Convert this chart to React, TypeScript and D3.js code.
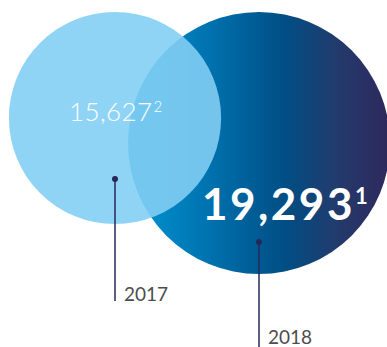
import React from "react";
import * as d3 from "d3";

// Members by year
const years = ["2017", "2018"];
const values = [15627, 19293];
const footnotes = ["2", "1"];

const W = 387;
const H = 347;

export default function App() {
  const r = d3.scaleLinear().domain([0, d3.max(values)!]).range([0, 131]);
  const fmt = d3.format(",");

  const c17 = { x: 115, y: 118 };
  const c18 = { x: 259, y: 143 };
  const r17 = r(values[0]);
  const r18 = r(values[1]);

  return (
    <svg
      width={W}
      height={H}
      style={{ position: "absolute", left: 0, top: 0, display: "block" }}
      fontFamily="Lato, 'Open Sans', sans-serif"
    >
      <defs>
        <linearGradient id="g18" gradientUnits="userSpaceOnUse" x1={c18.x - r18} y1={0} x2={c18.x + r18} y2={0}>
          <stop offset="0" stopColor="#0096d4" />
          <stop offset="0.3" stopColor="#0073b0" />
          <stop offset="0.6" stopColor="#004e84" />
          <stop offset="0.8" stopColor="#233a6c" />
          <stop offset="1" stopColor="#2e285c" />
        </linearGradient>
      </defs>
      <rect width={W} height={H} fill="#fff" />

      {/* 2018 circle */}
      <circle cx={c18.x} cy={c18.y} r={r18} fill="url(#g18)" />
      {/* 2017 circle, translucent over 2018 */}
      <circle cx={c17.x} cy={c17.y} r={r17} fill="rgb(130,207,244)" fillOpacity={0.89} />

      {/* leader lines */}
      <line x1={c17.x} y1={179} x2={c17.x} y2={301} stroke="#27285a" strokeWidth={1.5} />
      <circle cx={c17.x} cy={179} r={3} fill="#27285a" />
      <line x1={c18.x} y1={242} x2={c18.x} y2={H} stroke="#27285a" strokeWidth={1.5} />
      <circle cx={c18.x} cy={242} r={3} fill="#27285a" />

      <text x={124} y={301} fontSize={19} fill="#4d4d4d">{years[0]}</text>
      <text x={268} y={344} fontSize={19} fill="#4d4d4d">{years[1]}</text>

      <text x={69} y={121} fontSize={26} fontWeight={300} fill="#fff" letterSpacing={0.4}>
        {fmt(values[0])}
        <tspan fontSize={15} dy={-9} dx={1}>{footnotes[0]}</tspan>
      </text>
      <text x={202} y={220} fontSize={44} fontWeight={700} fill="#fff" letterSpacing={2.5}>
        {fmt(values[1])}
        <tspan fontSize={22} dy={-16} letterSpacing={0}>{footnotes[1]}</tspan>
      </text>
    </svg>
  );
}
